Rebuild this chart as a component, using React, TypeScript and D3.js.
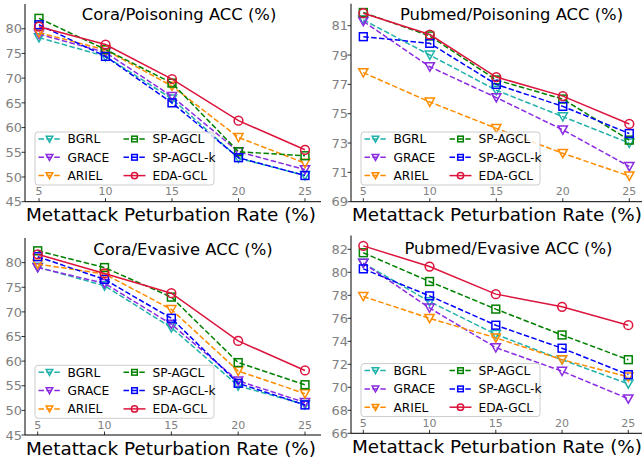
import React, {useRef, useEffect} from "react"
import * as d3 from "d3"

// perturbation rates (x axis)
const rates = [5, 10, 15, 20, 25]
const methods = ["BGRL", "GRACE", "ARIEL", "SP-AGCL", "SP-AGCL-k", "EDA-GCL"]
const colors = ["#20b2aa", "#8a2be2", "#ff8c00", "#008000", "#0000ff", "#dc143c"]
const shapes = ["tri", "tri", "tri", "square", "square", "circle"]

// accuracy per method, in the order of `methods`
const coraPoisoning = [
    [78.2, 74.4, 65.8, 53.8, 50.3],
    [78.9, 75.2, 66.3, 55.1, 51.5],
    [79.2, 75.7, 68.4, 58.0, 52.8],
    [82.1, 75.8, 69.0, 55.1, 54.3],
    [80.8, 74.4, 65.0, 53.9, 50.3],
    [80.4, 76.8, 69.8, 61.4, 55.5],
]
const pubmedPoisoning = [
    [81.4, 79.0, 76.6, 74.8, 73.0],
    [81.3, 78.2, 76.1, 73.9, 71.4],
    [77.8, 75.8, 74.0, 72.3, 70.75],
    [81.9, 80.3, 77.3, 76.0, 73.2],
    [80.25, 79.8, 77.0, 75.5, 73.65],
    [81.85, 80.4, 77.5, 76.2, 74.3],
]
const coraEvasive = [
    [79.1, 75.3, 66.8, 55.0, 51.2],
    [79.0, 75.8, 67.5, 56.0, 51.6],
    [79.7, 77.7, 70.5, 58.0, 53.4],
    [82.4, 79.0, 73.0, 59.7, 55.2],
    [81.2, 76.6, 68.7, 55.5, 51.1],
    [81.7, 77.8, 73.8, 64.1, 58.1],
]
const pubmedEvasive = [
    [80.8, 77.45, 74.6, 72.4, 70.3],
    [80.8, 76.9, 73.45, 71.4, 69.0],
    [77.9, 76.0, 74.3, 72.4, 70.9],
    [81.7, 79.2, 76.8, 74.55, 72.4],
    [80.3, 77.95, 75.4, 73.4, 71.1],
    [82.3, 80.5, 78.1, 77.0, 75.4],
]

const coraTicks = [45, 50, 55, 60, 65, 70, 75, 80]
const pubmedPoisonTicks = [69, 71, 73, 75, 77, 79, 81]
const pubmedEvasiveTicks = [66, 68, 70, 72, 74, 76, 78, 80, 82]

const xLabel = "Metattack Peturbation Rate (%)"
const font = "DejaVu Sans, sans-serif"

const panels = [
    {title: "Cora/Poisoning ACC (%)", data: coraPoisoning, yDomain: [45, 85], yTicks: coraTicks,
     ox: 0, oy: 0, left: 25, x5: 39, x25: 305, bottom: 201.7, top: 4, titleX: 179, titleY: 20},
    {title: "Pubmed/Poisoning ACC (%)", data: pubmedPoisoning, yDomain: [69, 82.5], yTicks: pubmedPoisonTicks,
     ox: 321, oy: 0, left: 30, x5: 42.3, x25: 308.3, bottom: 201.7, top: 3.7, titleX: 190.5, titleY: 20},
    {title: "Cora/Evasive ACC (%)", data: coraEvasive, yDomain: [45, 85], yTicks: coraTicks,
     ox: 0, oy: 231, left: 25, x5: 37.7, x25: 305, bottom: 204, top: 7, titleX: 183, titleY: 24},
    {title: "Pubmed/Evasive ACC (%)", data: pubmedEvasive, yDomain: [66, 83.2], yTicks: pubmedEvasiveTicks,
     ox: 321, oy: 231, left: 30, x5: 42.3, x25: 307.3, bottom: 202.3, top: 4.5, titleX: 187.5, titleY: 22.7},
]

const drawMarker = (g, shape, color, cx, cy, s) => {
    if (shape === "tri") {
        g.append("path")
            .attr("d", `M${cx - s},${cy - s * 0.85}L${cx + s},${cy - s * 0.85}L${cx},${cy + s * 0.95}Z`)
            .attr("fill", "none").attr("stroke", color).attr("stroke-width", 1.5)
    } else if (shape === "square") {
        g.append("rect")
            .attr("x", cx - s * 0.85).attr("y", cy - s * 0.85)
            .attr("width", s * 1.7).attr("height", s * 1.7)
            .attr("fill", "none").attr("stroke", color).attr("stroke-width", 1.5)
    } else {
        g.append("circle")
            .attr("cx", cx).attr("cy", cy).attr("r", s * 0.95)
            .attr("fill", "none").attr("stroke", color).attr("stroke-width", 1.5)
    }
}

const App = () => {
    let element = useRef(null)

    useEffect(() => {
        let svg = d3.select(element.current)
        svg.selectAll("*").remove()
        svg.append("rect").attr("width", 642).attr("height", 462).attr("fill", "white")

        panels.forEach(p => {
            let g = svg.append("g").attr("transform", `translate(${p.ox},${p.oy})`)

            let x = d3.scaleLinear().domain([5, 25]).range([p.x5, p.x25])
            let y = d3.scaleLinear().domain(p.yDomain).range([p.bottom, p.top])

            // spines
            g.append("line").attr("x1", p.left).attr("x2", p.left).attr("y1", p.top).attr("y2", p.bottom)
                .attr("stroke", "black").attr("stroke-width", 1)
            g.append("line").attr("x1", p.left).attr("x2", 321).attr("y1", p.bottom).attr("y2", p.bottom)
                .attr("stroke", "black").attr("stroke-width", 1)

            // y ticks
            p.yTicks.forEach(t => {
                g.append("line").attr("x1", p.left - 3.5).attr("x2", p.left).attr("y1", y(t)).attr("y2", y(t))
                    .attr("stroke", "black").attr("stroke-width", 0.8)
                g.append("text").attr("x", p.left - 3).attr("y", y(t)).attr("dy", "0.36em")
                    .attr("text-anchor", "end").attr("font-family", font).attr("font-size", 13)
                    .attr("fill", "#808080").text(t)
            })
            // x ticks (drawn inside)
            rates.forEach(t => {
                g.append("line").attr("x1", x(t)).attr("x2", x(t)).attr("y1", p.bottom).attr("y2", p.bottom - 3.5)
                    .attr("stroke", "black").attr("stroke-width", 0.8)
                g.append("text").attr("x", x(t)).attr("y", p.bottom - 6.5)
                    .attr("text-anchor", "middle").attr("font-family", font).attr("font-size", 11)
                    .attr("fill", "#808080").text(t)
            })

            // series
            let line = d3.line().x((d, i) => x(rates[i])).y(d => y(d))
            p.data.forEach((vals, m) => {
                g.append("path").attr("d", line(vals)).attr("fill", "none")
                    .attr("stroke", colors[m]).attr("stroke-width", 1.5)
                    .attr("stroke-dasharray", m === 5 ? null : "5.5,2.4")
                vals.forEach((v, i) => drawMarker(g, shapes[m], colors[m], x(rates[i]), y(v), 4.6))
            })

            // title and x label
            g.append("text").attr("x", p.titleX).attr("y", p.titleY).attr("text-anchor", "middle")
                .attr("font-family", font).attr("font-size", 16.4).attr("fill", "black").text(p.title)
            g.append("text").attr("x", p.left + 146).attr("y", p.bottom + 19.5).attr("text-anchor", "middle")
                .attr("font-family", font).attr("font-size", 18.4).attr("fill", "black").text(xLabel)

            // legend
            let lx = p.left + 10, ly = p.bottom - 69.7
            let lg = g.append("g").attr("transform", `translate(${lx},${ly})`)
            lg.append("rect").attr("x", 0).attr("y", 0).attr("width", 179).attr("height", 53).attr("rx", 3)
                .attr("fill", "white").attr("fill-opacity", 0.8).attr("stroke", "#cccccc").attr("stroke-width", 1)
            methods.forEach((name, m) => {
                let col = Math.floor(m / 3), row = m % 3
                let hx = 3.5 + col * 85, hy = 7 + row * 18.3
                lg.append("line").attr("x1", hx).attr("x2", hx + 22).attr("y1", hy).attr("y2", hy)
                    .attr("stroke", colors[m]).attr("stroke-width", 1.5)
                    .attr("stroke-dasharray", m === 5 ? null : "5.5,2.4")
                drawMarker(lg, shapes[m], colors[m], hx + 11, hy, 3.3)
                lg.append("text").attr("x", hx + 29).attr("y", hy).attr("dy", "0.36em")
                    .attr("font-family", font).attr("font-size", 12.2).attr("fill", "black").text(name)
            })
        })
    })

    return (
        <svg ref={element} width={642} height={462}
             style={{position: "absolute", left: 0, top: 0}}></svg>
    )
}

export default App
